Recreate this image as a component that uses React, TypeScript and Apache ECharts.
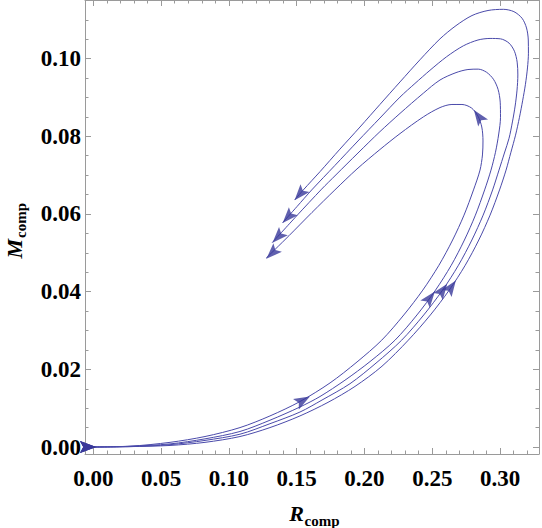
import { useEffect, useRef } from 'react';
import * as echarts from 'echarts';

// Mass–radius trajectories (R_comp, M_comp), ordered along each path.
const curveA: [number, number][] = [
  [0, 0], [0.0271, 0.0001], [0.0566, 0.0004], [0.0824, 0.0012], [0.1082, 0.0027],
  [0.1303, 0.005], [0.1524, 0.008], [0.1731, 0.0115], [0.193, 0.0156], [0.2129, 0.0208],
  [0.2323, 0.0275], [0.2486, 0.034], [0.2625, 0.0404], [0.2743, 0.0468], [0.2843, 0.0533],
  [0.2926, 0.0597], [0.2996, 0.0662], [0.3044, 0.0713], [0.308, 0.0759], [0.3114, 0.0803],
  [0.3143, 0.0849], [0.3167, 0.0893], [0.3187, 0.0934], [0.3202, 0.0976], [0.3209, 0.1014],
  [0.3208, 0.1048], [0.3195, 0.1079], [0.3162, 0.1104], [0.3102, 0.1121], [0.3024, 0.1127],
  [0.2911, 0.1124], [0.2793, 0.1111], [0.2675, 0.1085], [0.2557, 0.1051], [0.2409, 0.0997],
  [0.2262, 0.094], [0.2114, 0.0882], [0.1967, 0.0824], [0.1819, 0.0767], [0.1672, 0.0709],
  [0.1549, 0.0662], [0.1485, 0.0636],
];
const curveB: [number, number][] = [
  [0, 0], [0.0271, 0.0001], [0.0566, 0.0006], [0.0824, 0.0017], [0.1082, 0.0033],
  [0.1303, 0.006], [0.1524, 0.009], [0.1687, 0.0121], [0.1893, 0.0163], [0.2085, 0.0216],
  [0.2274, 0.0275], [0.2437, 0.034], [0.2576, 0.0404], [0.2693, 0.0468], [0.2792, 0.0533],
  [0.2875, 0.0597], [0.2945, 0.0662], [0.2992, 0.0713], [0.3032, 0.0757], [0.3066, 0.0795],
  [0.3091, 0.0837], [0.3111, 0.0878], [0.3125, 0.0919], [0.3131, 0.0958], [0.3126, 0.0991],
  [0.3106, 0.1019], [0.3066, 0.104], [0.3003, 0.1051], [0.2926, 0.1052], [0.2837, 0.1048],
  [0.2729, 0.1033], [0.2606, 0.1005], [0.2483, 0.097], [0.2372, 0.0936], [0.2262, 0.0901],
  [0.2114, 0.0847], [0.1952, 0.0788], [0.1782, 0.0725], [0.1611, 0.0662], [0.1502, 0.0619],
  [0.1395, 0.0577],
];
const curveC: [number, number][] = [
  [0, 0], [0.0271, 0.0002], [0.0566, 0.0008], [0.0824, 0.0021], [0.1082, 0.004],
  [0.1303, 0.0069], [0.1524, 0.0103], [0.1672, 0.013], [0.1856, 0.0172], [0.2041, 0.022],
  [0.2225, 0.0275], [0.2387, 0.034], [0.2524, 0.0404], [0.264, 0.0468], [0.2737, 0.0533],
  [0.2818, 0.0597], [0.2886, 0.0662], [0.2933, 0.0713], [0.2966, 0.0759], [0.299, 0.0806],
  [0.3003, 0.0849], [0.3001, 0.0888], [0.2985, 0.0921], [0.2951, 0.0947], [0.29, 0.0965],
  [0.2839, 0.0973], [0.2763, 0.0972], [0.2675, 0.0964], [0.2557, 0.0945], [0.2434, 0.0911],
  [0.2262, 0.0859], [0.2114, 0.0812], [0.1952, 0.0757], [0.179, 0.0701], [0.1684, 0.0664],
  [0.1502, 0.0596], [0.1319, 0.0526],
];
const curveD: [number, number][] = [
  [0, 0], [0.0271, 0.0002], [0.0566, 0.0012], [0.0824, 0.0027], [0.1082, 0.005],
  [0.1303, 0.008], [0.1524, 0.0117], [0.1746, 0.0165], [0.1945, 0.0219], [0.2127, 0.0275],
  [0.229, 0.034], [0.243, 0.0404], [0.2549, 0.0468], [0.265, 0.0533], [0.2734, 0.0597],
  [0.2804, 0.0662], [0.2852, 0.0713], [0.287, 0.0752], [0.2874, 0.0788], [0.2865, 0.0824],
  [0.2837, 0.0852], [0.2789, 0.0873], [0.2719, 0.0882], [0.2645, 0.0882], [0.2557, 0.0874],
  [0.2434, 0.085], [0.2262, 0.0807], [0.2114, 0.0766], [0.1945, 0.0716], [0.1782, 0.0662],
  [0.1613, 0.0604], [0.1443, 0.0544], [0.1274, 0.0486],
];

// Arrowheads along each path: [R, M, heading in degrees, counter-clockwise from +R].
const arrowsA: [number, number, number][] = [[-0.0039, 0, 0], [0.264, 0.0412, 55], [0.1523, 0.0651, 229]];
const arrowsB: [number, number, number][] = [[-0.0039, 0, 0], [0.2576, 0.0404, 54], [0.1436, 0.0592, 228]];
const arrowsC: [number, number, number][] = [[-0.0039, 0, 0], [0.2483, 0.0384, 52], [0.1362, 0.0541, 227]];
const arrowsD: [number, number, number][] = [
  [-0.0039, 0, 0], [0.1546, 0.012, 29], [0.2841, 0.0851, 125], [0.1318, 0.0499, 225],
];

const xTicks = [0, 0.05, 0.1, 0.15, 0.2, 0.25, 0.3];
const yTicks = [0, 0.02, 0.04, 0.06, 0.08, 0.1];
const xRange: [number, number] = [-0.0061, 0.3287];
const yRange: [number, number] = [-0.0018, 0.1151];

const FRAME = '#9a9a9a';
const LINE = '#4a4aaa';
const HEAD = '#38389a';
const SERIF = '"Liberation Serif", "Times New Roman", serif';
// Notched arrowhead pointing up; rotated per point.
const ARROWHEAD = 'path://M10,0 L20,17 L10,13.5 L0,17 Z';

const tickText = (ticks: number[]) => (v: number) => {
  const t = ticks.find((k) => Math.abs(k - v) < 1e-9);
  return t === undefined ? '' : t.toFixed(2);
};

const axisBase = (range: [number, number], split: number, minorSplit: number, ticks: number[], showLabel: boolean, margin: number) => ({
  type: 'value' as const,
  min: range[0],
  max: range[1],
  splitNumber: split,
  splitLine: { show: false },
  axisLine: { show: true, onZero: false, lineStyle: { color: FRAME, width: 1 } },
  axisTick: { show: true, inside: true, length: 6, lineStyle: { color: FRAME, width: 1 } },
  minorTick: { show: true, splitNumber: minorSplit, length: 3.5, lineStyle: { color: FRAME, width: 1 } },
  axisLabel: {
    show: showLabel,
    margin,
    formatter: tickText(ticks),
    fontFamily: SERIF,
    fontSize: 23,
    fontWeight: 'bold' as const,
    color: '#000',
  },
});

const curves = [curveA, curveB, curveC, curveD];
const arrows = [arrowsA, arrowsB, arrowsC, arrowsD];

const textStyle = (text: string, font: string, align: 'left' | 'right') => ({
  text,
  font,
  fill: '#000',
  textAlign: align,
  align,
  textVerticalAlign: 'middle',
  verticalAlign: 'middle',
});

export default function App() {
  const ref = useRef<HTMLDivElement>(null);

  useEffect(() => {
    if (!ref.current) return;
    const chart = echarts.init(ref.current, undefined, { renderer: 'svg' });

    const lineSeries = curves.map((data) => ({
      type: 'line' as const,
      data,
      showSymbol: false,
      smooth: 0.3,
      lineStyle: { color: LINE, width: 1 },
      z: 2,
    }));
    const headSeries = arrows.map((list) => ({
      type: 'scatter' as const,
      data: list.map(([r, m, deg]) => ({ value: [r, m], symbolRotate: deg - 90 })),
      symbol: ARROWHEAD,
      symbolSize: [12, 16],
      itemStyle: { color: HEAD },
      clip: false,
      z: 3,
    }));

    chart.setOption({
      animation: false,
      grid: { left: 85, right: 3, top: 0, bottom: 74 },
      xAxis: [
        { ...axisBase(xRange, 7, 5, xTicks, true, 13), position: 'bottom' },
        { ...axisBase(xRange, 7, 5, xTicks, false, 13), position: 'top' },
      ],
      yAxis: [
        { ...axisBase(yRange, 6, 4, yTicks, true, 4), position: 'left' },
        { ...axisBase(yRange, 6, 4, yTicks, false, 4), position: 'right' },
      ],
      series: [...lineSeries, ...headSeries],
      graphic: [
        { type: 'text', x: 304, y: 513, style: textStyle('R', `italic bold 22px ${SERIF}`, 'right') },
        { type: 'text', x: 304.5, y: 520.5, style: textStyle('comp', `bold 15px ${SERIF}`, 'left') },
        {
          type: 'group',
          x: 22,
          y: 239,
          rotation: Math.PI / 2,
          children: [
            { type: 'text', x: 0, y: -7.4, style: textStyle('M', `italic bold 22px ${SERIF}`, 'right') },
            { type: 'text', x: 1, y: -1.5, style: textStyle('comp', `bold 15px ${SERIF}`, 'left') },
          ],
        },
      ],
    });

    return () => chart.dispose();
  }, []);

  return (
    <div
      ref={ref}
      style={{ position: 'fixed', left: 0, top: 0, width: 542, height: 528, background: '#fff' }}
    />
  );
}
